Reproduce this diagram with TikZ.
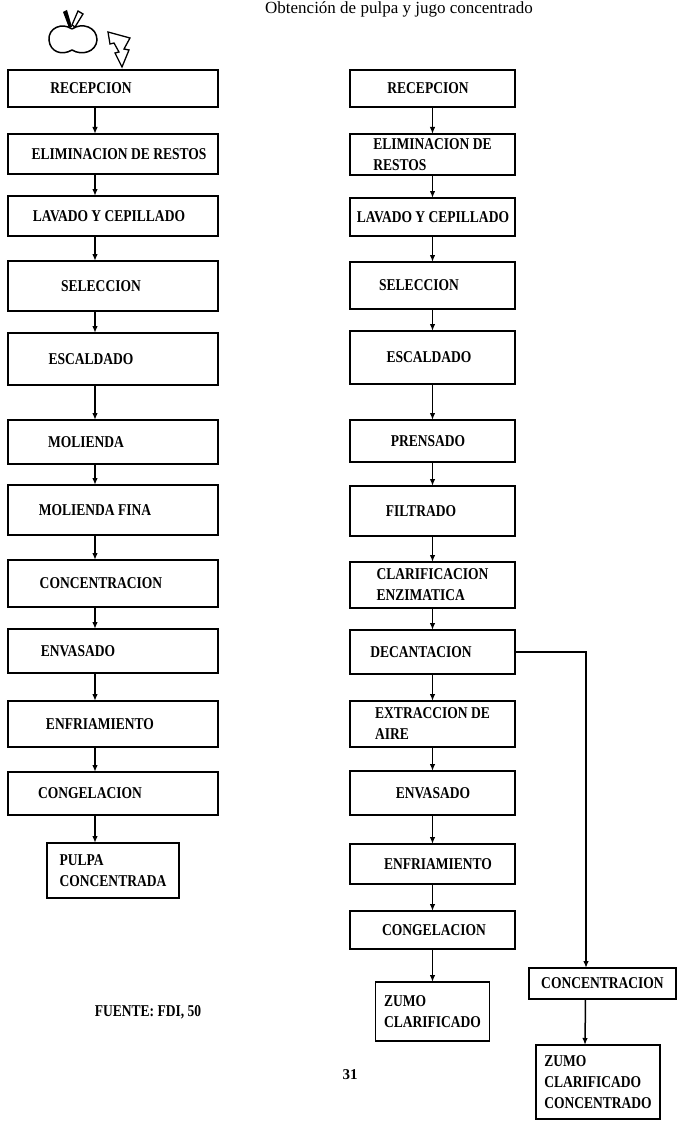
\documentclass[tikz,border=0pt]{standalone}
\usepackage{fontspec}
\setmainfont{Liberation Serif}
\newfontfamily\stepfamily{Liberation Serif}[FakeStretch=0.82]
\usetikzlibrary{arrows.meta,positioning}
\newcommand\stepfont{\stepfamily\bfseries\fontsize{16.5}{21}\selectfont}

\tikzset{
  stepbox/.style={draw, line width=1.7pt, inner sep=2pt, outer sep=0pt, font=\stepfont},
  lstep/.style={stepbox, minimum width=210pt},
  rstep/.style={stepbox, minimum width=165pt},
  nudge/.style={execute at begin node={\hspace*{#1pt}}},
  flow/.style={line width=1.5pt, -{Latex[length=7pt,width=5.5pt]}},
}

\begin{document}
\begin{tikzpicture}[x=1pt,y=-1pt]
    \useasboundingbox (0,0) rectangle (677,1121);
    \node[font=\fontsize{17}{20}\selectfont] (title) at (399,9) {Obtención de pulpa y jugo concentrado};

    % apple and bolt
    \draw[line width=1.5pt] (72,29) .. controls (62,22) and (48,28) .. (49,40)
        .. controls (50,52) and (62,56) .. (72,50) .. controls (82,56) and (96,52) .. (97,40)
        .. controls (97,27) and (82,22) .. (72,29);
    \fill (63,12) -- (67,10) -- (72,27) -- (69,28) -- cycle;
    \draw[line width=1.3pt, fill=white] (72,25) -- (78,11) -- (83,14) -- (75,27) -- cycle;
    \draw[line width=1.3pt] (108,32) -- (130,38) -- (124,49) -- (129,50) -- (122,67)
        -- (115,53) -- (119,52) -- (114,43) -- (110,44) -- cycle;

    % pulpa
    \node[lstep, minimum height=37pt, nudge=-44] (rec) at (113,88.5) {RECEPCION};
    \node[lstep, minimum height=40pt, nudge=12] (elim) [below=27pt of rec] {ELIMINACION DE RESTOS};
    \node[lstep, minimum height=40pt, nudge=-8] (lav) [below=22pt of elim] {LAVADO Y CEPILLADO};
    \node[lstep, minimum height=50pt, nudge=-24] (sel) [below=25pt of lav] {SELECCION};
    \node[lstep, minimum height=52pt, nudge=-44] (esc) [below=22pt of sel] {ESCALDADO};
    \node[lstep, minimum height=44pt, nudge=-54] (mol) [below=35pt of esc] {MOLIENDA};
    \node[lstep, minimum height=50pt, nudge=-36] (molf) [below=21pt of mol] {MOLIENDA FINA};
    \node[lstep, minimum height=47pt, nudge=-24] (conc) [below=25pt of molf] {CONCENTRACION};
    \node[lstep, minimum height=44pt, nudge=-70] (env) [below=22pt of conc] {ENVASADO};
    \node[lstep, minimum height=46pt, nudge=-26] (enf) [below=28pt of env] {ENFRIAMIENTO};
    \node[lstep, minimum height=43pt, nudge=-46] (cong) [below=25pt of enf] {CONGELACION};
    \node[stepbox, minimum width=132pt, minimum height=55pt, align=left] (pulpa) [below=28pt of cong] {PULPA\\CONCENTRADA};

    % zumo
    \node[rstep, minimum height=37pt, nudge=-9] (rec2) at (432.5,88.5) {RECEPCION};
    \node[rstep, minimum height=41pt, align=left] (elim2) [below=27pt of rec2] {ELIMINACION DE\\RESTOS};
    \node[rstep, minimum height=38pt, nudge=1] (lav2) [below=23pt of elim2] {LAVADO Y CEPILLADO};
    \node[rstep, minimum height=47pt, nudge=-27] (sel2) [below=26pt of lav2] {SELECCION};
    \node[rstep, minimum height=53pt, nudge=-7] (esc2) [below=22pt of sel2] {ESCALDADO};
    \node[rstep, minimum height=42pt, nudge=-9] (pren) [below=36pt of esc2] {PRENSADO};
    \node[rstep, minimum height=50pt, nudge=-23] (filt) [below=24pt of pren] {FILTRADO};
    \node[rstep, minimum height=46pt, align=left] (clar) [below=26pt of filt] {CLARIFICACION\\ENZIMATICA};
    \node[rstep, minimum height=44pt, nudge=-23] (dec) [below=22pt of clar] {DECANTACION};
    \node[rstep, minimum height=46pt, align=left] (ext) [below=27pt of dec] {EXTRACCION DE\\AIRE};
    \node[rstep, minimum height=44pt, nudge=1] (env2) [below=24pt of ext] {ENVASADO};
    \node[rstep, minimum height=40pt, nudge=11] (enf2) [below=29pt of env2] {ENFRIAMIENTO};
    \node[rstep, minimum height=38pt, nudge=3] (cong2) [below=27pt of enf2] {CONGELACION};
    \node[stepbox, minimum width=114pt, minimum height=59pt, align=left] (zumo) [below=33pt of cong2] {ZUMO\\CLARIFICADO};
    \node[stepbox, minimum width=147pt, minimum height=31pt] (conc2) at (602.5,983.5) {CONCENTRACION};
    \node[stepbox, minimum width=124pt, minimum height=74pt, align=left] (zumocc) at (598,1082) {ZUMO\\CLARIFICADO\\CONCENTRADO};

    \foreach \a/\b in {rec/elim, elim/lav, lav/sel, sel/esc, esc/mol, mol/molf, molf/conc,
                       conc/env, env/enf, enf/cong, cong/pulpa}
        \draw[flow] ([xshift=-18pt]\a.south) -- ([xshift=-18pt]\b.north);
    \foreach \a/\b in {rec2/elim2, elim2/lav2, lav2/sel2, sel2/esc2, esc2/pren, pren/filt, filt/clar,
                       clar/dec, dec/ext, ext/env2, env2/enf2, enf2/cong2, cong2/zumo}
        \draw[flow] (\a.south) -- (\b.north);
    \draw[flow] (dec.east) -| ([xshift=-16.5pt]conc2.north);
    \draw[flow] ([xshift=-17pt]conc2.south) -- ([xshift=-13pt]zumocc.north);

    \node[font=\stepfont] (src) at (148,1012) {FUENTE: FDI, 50};
    \node[font=\fontsize{15}{18}\selectfont\bfseries] (page) at (350,1075) {31};
\end{tikzpicture}
\end{document}
